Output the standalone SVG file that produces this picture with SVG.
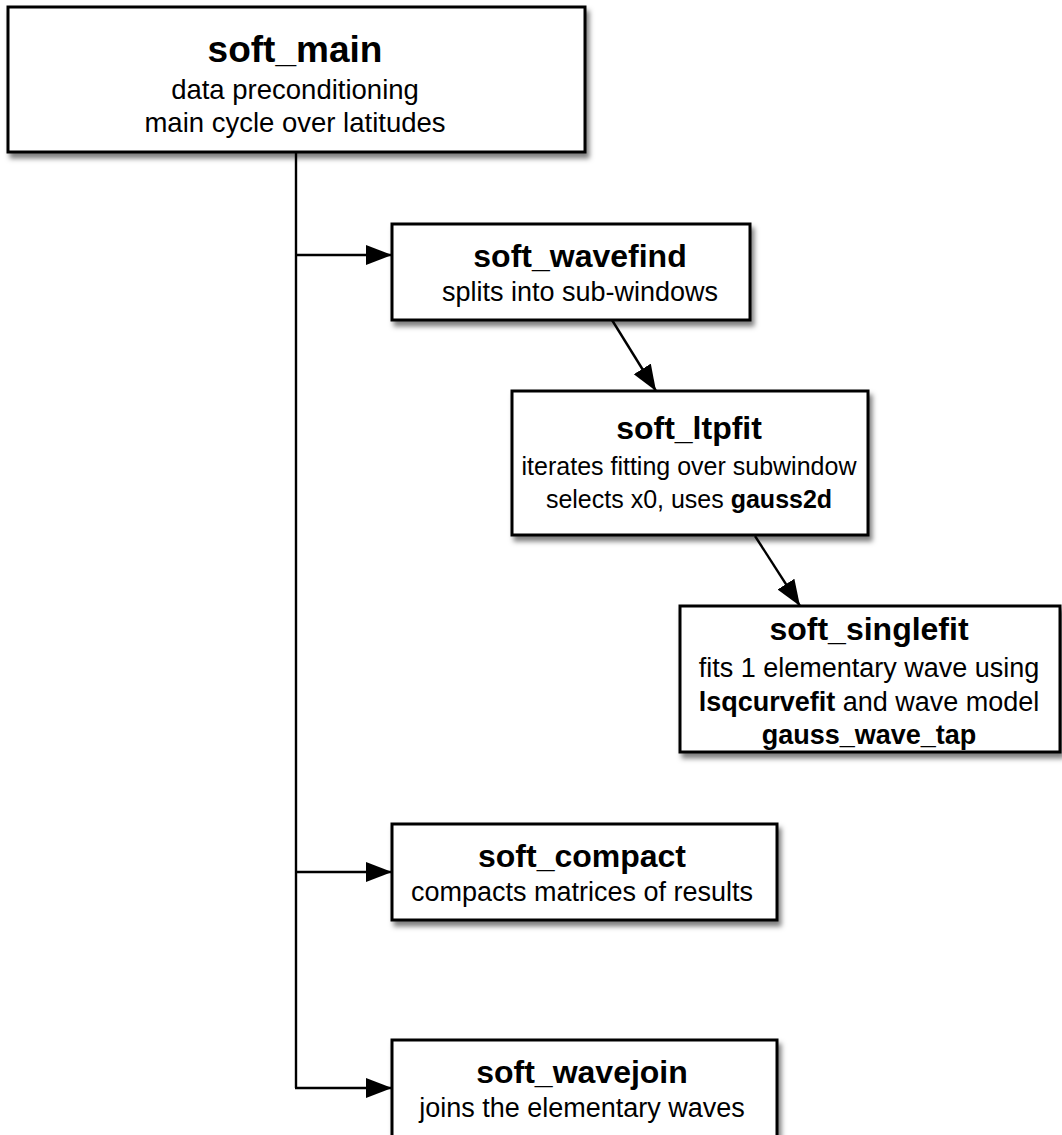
<svg xmlns="http://www.w3.org/2000/svg" width="1062" height="1135" viewBox="0 0 1062 1135">
  <style>
    .box { fill: #ffffff; stroke: #000000; stroke-width: 3; filter: url(#shadow); }
    .title { font-family: "Liberation Sans", Arial, Helvetica, sans-serif; font-weight: bold; font-size: 32px; fill: #000; text-anchor: middle; }
    .maintitle { font-size: 37px; }
    .sub { font-family: "Liberation Sans", Arial, Helvetica, sans-serif; font-size: 27px; fill: #000; text-anchor: middle; }
    .mainsub { font-size: 27.5px; }
    .ltsub { font-size: 25px; }
    .b { font-weight: bold; }
    .conn { fill: none; stroke: #000000; stroke-width: 2.4; }
  </style>
  <defs>
    <filter id="shadow" x="-10%" y="-10%" width="130%" height="140%">
      <feDropShadow dx="3" dy="5" stdDeviation="2.5" flood-color="#000000" flood-opacity="0.5"/>
    </filter>
    <marker id="arrow" markerUnits="userSpaceOnUse" markerWidth="28" markerHeight="22" refX="26" refY="10" orient="auto">
      <path d="M0,0 L26,10 L0,20 z" fill="#000000"/>
    </marker>
  </defs>
  <rect width="1062" height="1135" fill="#ffffff"/>

  <g id="connectors">
    <line class="conn" x1="296" y1="152" x2="296" y2="1088"/>
    <line class="conn" x1="296" y1="255" x2="392" y2="255" marker-end="url(#arrow)"/>
    <line class="conn" x1="296" y1="872" x2="392" y2="872" marker-end="url(#arrow)"/>
    <line class="conn" x1="295" y1="1088" x2="392" y2="1088" marker-end="url(#arrow)"/>
    <line class="conn" x1="612" y1="320" x2="656" y2="391" marker-end="url(#arrow)"/>
    <line class="conn" x1="755" y1="536" x2="800" y2="606" marker-end="url(#arrow)"/>
  </g>

  <g id="soft_main">
    <rect class="box" x="8" y="7" width="577" height="145"/>
    <text class="title maintitle" x="295" y="62">soft_main</text>
    <text class="sub mainsub" x="295" y="99">data preconditioning</text>
    <text class="sub mainsub" x="295" y="132">main cycle over latitudes</text>
  </g>

  <g id="soft_wavefind">
    <rect class="box" x="392" y="224" width="358" height="96"/>
    <text class="title" x="580" y="267">soft_wavefind</text>
    <text class="sub" x="580" y="301">splits into sub-windows</text>
  </g>

  <g id="soft_ltpfit">
    <rect class="box" x="512" y="391" width="356" height="144"/>
    <text class="title" x="689" y="439">soft_ltpfit</text>
    <text class="sub ltsub" x="689" y="475">iterates fitting over subwindow</text>
    <text class="sub ltsub" x="689" y="508">selects x0, uses <tspan class="b">gauss2d</tspan></text>
  </g>

  <g id="soft_singlefit">
    <rect class="box" x="680" y="606" width="380" height="146"/>
    <text class="title" x="869" y="640">soft_singlefit</text>
    <text class="sub" x="869" y="677">fits 1 elementary wave using</text>
    <text class="sub" x="869" y="711"><tspan class="b">lsqcurvefit</tspan> and wave model</text>
    <text class="sub b" x="869" y="744">gauss_wave_tap</text>
  </g>

  <g id="soft_compact">
    <rect class="box" x="392" y="824" width="385" height="96"/>
    <text class="title" x="582" y="867">soft_compact</text>
    <text class="sub" x="582" y="901">compacts matrices of results</text>
  </g>

  <g id="soft_wavejoin">
    <rect class="box" x="392" y="1040" width="385" height="97"/>
    <text class="title" x="582" y="1083">soft_wavejoin</text>
    <text class="sub" x="582" y="1117">joins the elementary waves</text>
  </g>
</svg>
